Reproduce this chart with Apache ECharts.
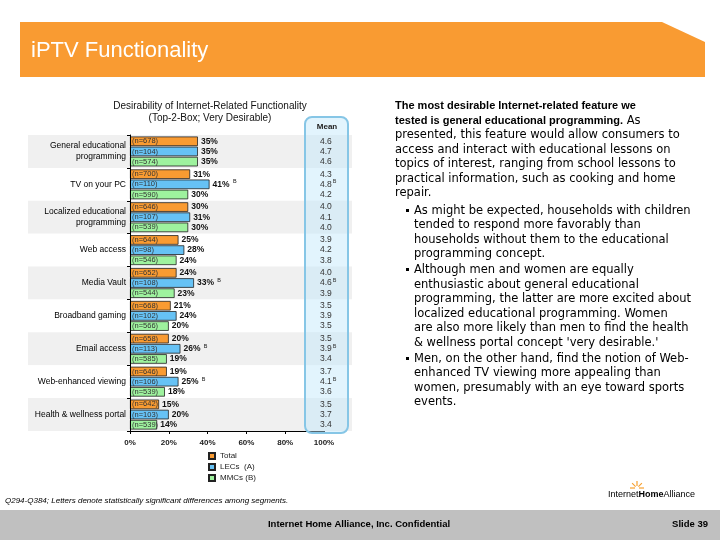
<!DOCTYPE html>
<html><head><meta charset="utf-8">
<script src="https://cdn.jsdelivr.net/npm/echarts@6/dist/echarts.min.js"></script>
<style>html,body{margin:0;padding:0;background:#fff}#c{width:720px;height:540px}</style>
</head><body><div id="c"></div>
<script>
const categories = ['General educational\nprogramming','TV on your PC','Localized educational\nprogramming','Web access','Media Vault','Broadband gaming','Email access','Web-enhanced viewing','Health & wellness portal'];
const seriesNames = ['Total','LECs  (A)','MMCs (B)'];
const totalPct = [35,31,30,25,24,21,20,19,15];
const lecsPct  = [35,41,31,28,33,24,26,25,20];
const mmcsPct  = [35,30,30,24,23,20,19,18,14];
const totalN = [678,700,646,644,652,668,658,646,642];
const lecsN  = [104,110,107,98,108,102,113,106,103];
const mmcsN  = [574,590,539,546,544,566,585,539,539];
const totalMean = [4.6,4.3,4.0,3.9,4.0,3.5,3.5,3.7,3.5];
const lecsMean  = [4.7,4.8,4.1,4.2,4.6,3.9,3.9,4.1,3.7];
const mmcsMean  = [4.6,4.2,4.0,3.8,3.9,3.5,3.4,3.6,3.4];
const lecsSig = ['','B','','','B','','B','B',''];
const noSig = ['','','','','','','','',''];
const xTicks = [0,20,40,60,80,100];

const pct = [totalPct, lecsPct, mmcsPct];
const ns = [totalN, lecsN, mmcsN];
const means = [totalMean, lecsMean, mmcsMean];
const sigs = [noSig, lecsSig, noSig];
const colors = ['#F99B32','#66C2F5','#9EF29E'];
const FONT = 'Liberation Sans, Arial, sans-serif';
const BODY = 'DejaVu Sans, Verdana, sans-serif';

const chart = echarts.init(document.getElementById('c'));
const barGap = '6%', catGap = '9%';
const series = [];
for (let i = 0; i < 3; i++) {
  series.push({
    name: seriesNames[i], type: 'bar', xAxisIndex: 1, yAxisIndex: 1,
    data: pct[i], barGap: barGap, barCategoryGap: catGap,
    itemStyle: { color: colors[i], borderColor: '#222', borderWidth: 0.8 },
    label: { show: true, position: 'insideLeft', distance: 2, fontSize: 7.5, fontFamily: FONT, color: '#333',
      formatter: p => '(n=' + ns[i][p.dataIndex] + ')' },
    silent: true, animation: false
  });
}
for (let i = 0; i < 3; i++) {
  series.push({
    name: seriesNames[i], type: 'bar', xAxisIndex: 1, yAxisIndex: 2,
    data: pct[i], barGap: barGap, barCategoryGap: catGap,
    itemStyle: { color: 'rgba(0,0,0,0)' },
    label: { show: true, position: 'right', distance: 3, fontFamily: FONT,
      formatter: p => '{v|' + p.value + '%}' + (sigs[i][p.dataIndex] ? ' {s|' + sigs[i][p.dataIndex] + '}' : ''),
      rich: { v: { fontSize: 8.5, fontWeight: 'bold', color: '#111', fontFamily: FONT },
              s: { fontSize: 5.5, color: '#111', fontFamily: FONT, padding: [0,0,5,0] } } },
    silent: true, animation: false
  });
}
for (let i = 0; i < 3; i++) {
  series.push({
    name: seriesNames[i], type: 'bar', xAxisIndex: 2, yAxisIndex: 3,
    data: means[i], barGap: barGap, barCategoryGap: catGap,
    itemStyle: { color: 'rgba(0,0,0,0)' },
    label: { show: true, position: 'insideLeft', distance: 0, fontFamily: FONT,
      formatter: p => '{v|' + p.value.toFixed(1) + '}' + (sigs[i][p.dataIndex] ? '{s|' + sigs[i][p.dataIndex] + '}' : ''),
      rich: { v: { fontSize: 8.5, color: '#333', fontFamily: FONT },
              s: { fontSize: 5.5, color: '#333', fontFamily: FONT, padding: [0,0,5,1] } } },
    silent: true, animation: false
  });
}

const rightLines = [
  [395,106,[['b','The most desirable Internet-related feature we']]],
  [395,121,[['b','tested is general educational programming.'],['n',' As']]],
  [395,135,[['n','presented, this feature would allow consumers to']]],
  [395,150,[['n','access and interact with educational lessons on']]],
  [395,164,[['n','topics of interest, ranging from school lessons to']]],
  [395,179,[['n','practical information, such as cooking and home']]],
  [395,193,[['n','repair.']]],
  [414,211,[['n','As might be expected, households with children']]],
  [414,225,[['n','tended to respond more favorably than']]],
  [414,240,[['n','households without them to the educational']]],
  [414,254,[['n','programming concept.']]],
  [414,270,[['n','Although men and women are equally']]],
  [414,285,[['n','enthusiastic about general educational']]],
  [414,299,[['n','programming, the latter are more excited about']]],
  [414,314,[['n','localized educational programming. Women']]],
  [414,328,[['n','are also more likely than men to find the health']]],
  [414,343,[['n','& wellness portal concept \'very desirable.\'']]],
  [414,359,[['n','Men, on the other hand, find the notion of Web-']]],
  [414,373,[['n','enhanced TV viewing more appealing than']]],
  [414,388,[['n','women, presumably with an eye toward sports']]],
  [414,402,[['n','events.']]]
];
const bulletYs = [211,270,359];
const graphics = [];
graphics.push({ type:'polygon', z:0, shape:{ points:[[20,22],[662,22],[705,42],[705,77],[20,77]] }, style:{ fill:'#F99B32' } });
graphics.push({ type:'text', z:5, x:31, y:51, style:{ text:'iPTV Functionality', fill:'#fff', fontSize:22, fontFamily:FONT, verticalAlign:'middle' } });
graphics.push({ type:'rect', z:0, shape:{ x:0, y:510, width:720, height:30 }, style:{ fill:'#C0C0C0' } });
graphics.push({ type:'text', z:5, x:359, y:524, style:{ text:'Internet Home Alliance, Inc. Confidential', fill:'#000', fontSize:9.5, fontWeight:'bold', fontFamily:FONT, align:'center', verticalAlign:'middle' } });
graphics.push({ type:'text', z:5, x:708, y:524, style:{ text:'Slide 39', fill:'#000', fontSize:9.5, fontWeight:'bold', fontFamily:FONT, align:'right', verticalAlign:'middle' } });
graphics.push({ type:'text', z:5, x:5, y:501, style:{ text:'Q294-Q384; Letters denote statistically significant differences among segments.', fill:'#000', fontSize:8, fontStyle:'italic', fontFamily:FONT, verticalAlign:'middle' } });
graphics.push({ type:'text', z:5, x:608, y:495, style:{ text:'{a|Internet}{b|Home}{a|Alliance}', verticalAlign:'middle', rich:{ a:{ fontSize:9, color:'#333', fontFamily:FONT }, b:{ fontSize:9, color:'#F07020', fontFamily:FONT, fontWeight:'bold' } } } });
[[-1,0],[-0.7,-0.7],[0,-1],[0.7,-0.7],[1,0]].forEach(d => {
  graphics.push({ type:'line', z:5, shape:{ x1:637+d[0]*2, y1:488+d[1]*2, x2:637+d[0]*7, y2:488+d[1]*7 }, style:{ stroke:'#F7A030', lineWidth:1.2 } });
});
graphics.push({ type:'rect', z:1, shape:{ x:305, y:117, width:43, height:316, r:7 }, style:{ fill:'rgba(190,230,250,0.45)', stroke:'#86C6E6', lineWidth:2 } });
graphics.push({ type:'text', z:5, x:327, y:127, style:{ text:'Mean', fill:'#222', fontSize:8, fontWeight:'bold', fontFamily:FONT, align:'center', verticalAlign:'middle' } });
graphics.push({ type:'text', z:5, x:210, y:106, style:{ text:'Desirability of Internet-Related Functionality', fill:'#111', fontSize:10, fontFamily:FONT, align:'center', verticalAlign:'middle' } });
graphics.push({ type:'text', z:5, x:210, y:118, style:{ text:'(Top-2-Box; Very Desirable)', fill:'#111', fontSize:10, fontFamily:FONT, align:'center', verticalAlign:'middle' } });
rightLines.forEach(l => {
  const txt = l[2].map(s => '{' + s[0] + '|' + s[1] + '}').join('');
  graphics.push({ type:'text', z:5, x:l[0], y:l[1], style:{ text:txt, verticalAlign:'middle',
    rich:{ b:{ fontSize:11, fontWeight:'bold', fontFamily:FONT, color:'#000' }, n:{ fontSize:11.5, fontFamily:BODY, color:'#000' } } } });
});
bulletYs.forEach(y => graphics.push({ type:'rect', z:5, shape:{ x:406, y:y-2, width:3, height:3 }, style:{ fill:'#000' } }));

chart.setOption({
  animation: false,
  textStyle: { fontFamily: FONT },
  grid: [
    { left: 28, top: 135, width: 324, height: 296 },
    { left: 130, top: 135, width: 194, height: 296 },
    { left: 320, top: 135, width: 30, height: 296 }
  ],
  xAxis: [
    { gridIndex: 0, type: 'value', min: 0, max: 1, show: false },
    { gridIndex: 1, type: 'value', min: 0, max: 100, interval: 20,
      axisLine: { show: true, lineStyle: { color: '#000', width: 1 } },
      axisTick: { show: true, length: 3, lineStyle: { color: '#000' } },
      splitLine: { show: false },
      axisLabel: { formatter: v => xTicks.includes(v) ? v + '%' : '', fontSize: 8, fontWeight: 'bold', color: '#222', margin: 8 } },
    { gridIndex: 2, type: 'value', min: 0, max: 10, show: false }
  ],
  yAxis: [
    { gridIndex: 0, type: 'category', data: categories, inverse: true, z: 0,
      axisLine: { show: false }, axisTick: { show: false }, axisLabel: { show: false }, splitLine: { show: false },
      splitArea: { show: true, areaStyle: { color: ['#F0F0F0', '#FFFFFF'] } } },
    { gridIndex: 1, type: 'category', data: categories, inverse: true, z: 3,
      axisLine: { show: true, lineStyle: { color: '#000', width: 1 } },
      axisTick: { show: true, length: 3, lineStyle: { color: '#000' } },
      axisLabel: { fontSize: 8.5, color: '#000', margin: 4, lineHeight: 11, align: 'right' } },
    { gridIndex: 1, type: 'category', data: categories, inverse: true, show: false },
    { gridIndex: 2, type: 'category', data: categories, inverse: true, show: false }
  ],
  legend: { data: seriesNames, orient: 'vertical', left: 203, top: 447, itemWidth: 6, itemHeight: 6, itemGap: 3, icon: 'rect',
    textStyle: { fontSize: 8, color: '#222', fontFamily: FONT }, selectedMode: false },
  graphic: graphics,
  series: series
});
</script></body></html>
